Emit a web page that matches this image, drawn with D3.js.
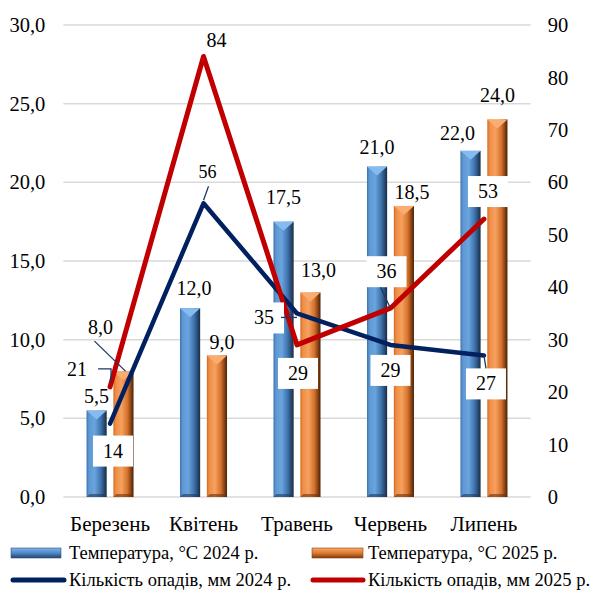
<!DOCTYPE html>
<html lang="uk">
<head>
<meta charset="utf-8">
<title>Температура та опади</title>
<script src="https://cdn.jsdelivr.net/npm/d3@7"></script>
<style>
  body { margin: 0; background: #fff; }
  text { font-family: "Liberation Serif", "Times New Roman", serif; fill: #000; }
</style>
</head>
<body>
<script>
var months = ["Березень", "Квітень", "Травень", "Червень", "Липень"];
var temp2024 = [5.5, 12.0, 17.5, 21.0, 22.0];
var temp2025 = [8.0, 9.0, 13.0, 18.5, 24.0];
var rain2024 = [14, 56, 35, 29, 27];
var rain2025 = [21, 84, 29, 36, 53];
var leftTicks = [0, 5, 10, 15, 20, 25, 30];
var rightTicks = [0, 10, 20, 30, 40, 50, 60, 70, 80, 90];
var legendNames = ["Температура, °С 2024 р.", "Температура, °С 2025 р.",
                   "Кількість опадів, мм 2024 р.", "Кількість опадів, мм 2025 р."];

// label placement tweaks (pixels), like the hand-dragged labels in the original
var t24Off = [[0, -14], [4, -20], [0, -25], [0, -20], [-13, -18]];
var t25Off = [[-23, -44], [5, -13], [8, -22], [8, -14], [0, -24]];
var r24Off = [[3, 27], [4, -32], [-33, 4], [0, 25], [2, 28]];
var r25Off = [[-33, -18], [13, -16], [1, 28], [-4, -37], [4, -28]];
var r24Box = [true, false, true, true, true];
var r25Box = [false, false, true, true, true];

var w = 593, h = 596;
var plotTop = 25, plotBottom = 497, plotLeft = 63.3, plotRight = 530.7;

var svg = d3.select("body").append("svg")
  .attr("width", w).attr("height", h);

var defs = svg.append("defs");
function barGrad(id, stops) {
  var g = defs.append("linearGradient").attr("id", id)
    .attr("x1", 0).attr("x2", 1).attr("y1", 0).attr("y2", 0);
  stops.forEach(function (s) {
    g.append("stop").attr("offset", s[0]).attr("stop-color", s[1]);
  });
}
barGrad("gBlue", [[0, "#3c70ad"], [0.12, "#5e98d3"], [0.4, "#6aa4de"], [0.7, "#3f74ae"], [0.9, "#254469"], [1, "#1a2b40"]]);
barGrad("gOrange", [[0, "#d06a22"], [0.12, "#f08d44"], [0.4, "#f6a160"], [0.7, "#d3722c"], [0.9, "#7a3b10"], [1, "#4a2208"]]);
function legGrad(id, c1, c2, c3) {
  var g = defs.append("linearGradient").attr("id", id)
    .attr("x1", 0).attr("x2", 0).attr("y1", 0).attr("y2", 1);
  g.append("stop").attr("offset", 0).attr("stop-color", c1);
  g.append("stop").attr("offset", 0.5).attr("stop-color", c2);
  g.append("stop").attr("offset", 1).attr("stop-color", c3);
}
legGrad("lBlue", "#7fb3e6", "#4f88c6", "#24446a");
legGrad("lOrange", "#f7a868", "#e07b32", "#7a3b10");

var x = d3.scaleBand().domain(months).range([plotLeft, plotRight]);
var bw = x.bandwidth();
var xs = d3.scaleBand().domain(["a", "b"])
  .range([bw / 2 - 23.5, bw / 2 + 23.5]).paddingInner(0.25);
var yL = d3.scaleLinear().domain([0, 30]).range([plotBottom, plotTop]);
var yR = d3.scaleLinear().domain([0, 90]).range([plotBottom, plotTop]);
var fmt1 = function (v) { return d3.format(".1f")(v).replace(".", ","); };

// gridlines
svg.append("g").selectAll("line").data(leftTicks).enter().append("line")
  .attr("x1", plotLeft).attr("x2", plotRight)
  .attr("y1", function (d) { return yL(d); })
  .attr("y2", function (d) { return yL(d); })
  .attr("stroke", "#d9d9d9").attr("stroke-width", 1.5);

// left axis
var axL = svg.append("g").attr("transform", "translate(" + (plotLeft - 18) + ",0)")
  .call(d3.axisLeft(yL).tickValues(leftTicks).tickFormat(fmt1).tickSize(0).tickPadding(0));
axL.select(".domain").remove();
axL.selectAll("text").attr("font-size", "20.5px").attr("font-family", "Liberation Serif");

// right axis
var axR = svg.append("g").attr("transform", "translate(" + (plotRight + 17) + ",0)")
  .call(d3.axisRight(yR).tickValues(rightTicks).tickSize(0).tickPadding(0));
axR.select(".domain").remove();
axR.selectAll("text").attr("font-size", "20.5px").attr("font-family", "Liberation Serif");

// category labels
svg.append("g").selectAll("text").data(months).enter().append("text")
  .attr("x", function (d) { return x(d) + bw / 2; })
  .attr("y", 531)
  .attr("text-anchor", "middle")
  .attr("font-size", "21px")
  .text(function (d) { return d; });

// bars
function drawBars(vals, key, grad, cap, shade) {
  var g = svg.append("g");
  var bx = function (i) { return x(months[i]) + xs(key); };
  var bwid = xs.bandwidth();
  g.selectAll("rect").data(vals).enter().append("rect")
    .attr("x", function (d, i) { return bx(i); })
    .attr("y", function (d) { return yL(d); })
    .attr("width", bwid)
    .attr("height", function (d) { return plotBottom - yL(d); })
    .attr("fill", "url(#" + grad + ")");
  // bevel on top
  g.selectAll("polygon.top").data(vals).enter().append("polygon")
    .attr("class", "top")
    .attr("points", function (d, i) {
      var x0 = bx(i), y0 = yL(d);
      return [[x0, y0], [x0 + bwid, y0], [x0 + bwid / 2, y0 + 9]].join(" ");
    })
    .attr("fill", cap);
  // bevel at the foot
  g.selectAll("polygon.bot").data(vals).enter().append("polygon")
    .attr("class", "bot")
    .attr("points", function (d, i) {
      var x0 = bx(i);
      return [[x0 + 3, plotBottom - 3], [x0 + bwid - 3, plotBottom - 3], [x0 + bwid, plotBottom], [x0, plotBottom]].join(" ");
    })
    .attr("fill", shade).attr("opacity", 0.6);
}
drawBars(temp2024, "a", "gBlue", "#85bbee", "#1f3a5c");
drawBars(temp2025, "b", "gOrange", "#f9ad70", "#6a320c");

// lines
function drawLine(vals, color, width) {
  var line = d3.line()
    .x(function (d, i) { return x(months[i]) + bw / 2; })
    .y(function (d) { return yR(d); });
  svg.append("path").datum(vals)
    .attr("d", line)
    .attr("fill", "none")
    .attr("stroke", color)
    .attr("stroke-width", width)
    .attr("stroke-linejoin", "round")
    .attr("stroke-linecap", "round");
}
drawLine(rain2024, "#002060", 4.5);
drawLine(rain2025, "#c00000", 5);

var labels = svg.append("g");
var leader = "#1f3864";

// temperature labels
function tempLabels(vals, key, offs, leaderIdx) {
  vals.forEach(function (v, i) {
    var cx = x(months[i]) + xs(key) + xs.bandwidth() / 2;
    var cy = yL(v);
    var lx = cx + offs[i][0], ly = cy + offs[i][1];
    if (leaderIdx.indexOf(i) >= 0) {
      labels.append("line")
        .attr("x1", lx - 6).attr("y1", ly + 14)
        .attr("x2", cx + 2).attr("y2", cy)
        .attr("stroke", leader).attr("stroke-width", 1.3);
    }
    labels.append("text")
      .attr("x", lx).attr("y", ly)
      .attr("dy", "0.35em")
      .attr("text-anchor", "middle")
      .attr("font-size", "20px")
      .text(fmt1(v));
  });
}
tempLabels(temp2024, "a", t24Off, []);
tempLabels(temp2025, "b", t25Off, [0]);

// precipitation labels
function rainLabels(vals, offs, boxes, sizes) {
  vals.forEach(function (v, i) {
    var cx = x(months[i]) + bw / 2;
    var cy = yR(v);
    var lx = cx + offs[i][0], ly = cy + offs[i][1];
    var g = labels.append("g");
    var t = g.append("text")
      .attr("x", lx).attr("y", ly)
      .attr("dy", "0.35em")
      .attr("text-anchor", "middle")
      .attr("font-size", sizes[i] + "px")
      .text(v);
    if (boxes[i]) {
      var bb = t.node().getBBox();
      g.insert("rect", "text")
        .attr("x", lx - bb.width / 2 - 10)
        .attr("y", ly - 15)
        .attr("width", bb.width + 20)
        .attr("height", 31)
        .attr("fill", "#fff");
    }
  });
}
rainLabels(rain2024, r24Off, r24Box, [20, 18, 20, 20, 20]);
rainLabels(rain2025, r25Off, r25Box, [20, 20, 20, 20, 20]);

// leader lines for precipitation labels
function pt(vals, i) { return [x(months[i]) + bw / 2, yR(vals[i])]; }
var p;
p = pt(rain2024, 1);
labels.append("line").attr("x1", p[0] + 5).attr("y1", p[1] - 17).attr("x2", p[0]).attr("y2", p[1] - 3)
  .attr("stroke", leader).attr("stroke-width", 1.3);
p = pt(rain2024, 2);
labels.append("line").attr("x1", p[0] - 16).attr("y1", p[1] + 4).attr("x2", p[0]).attr("y2", p[1] + 4)
  .attr("stroke", leader).attr("stroke-width", 1.3);
p = pt(rain2024, 4);
labels.append("line").attr("x1", p[0]).attr("y1", p[1]).attr("x2", p[0] + 2).attr("y2", p[1] + 13)
  .attr("stroke", leader).attr("stroke-width", 1.3);
p = pt(rain2025, 0);
labels.append("path")
  .attr("d", "M" + (p[0] - 12) + "," + (p[1] - 18) + "H" + (p[0] + 1) + "V" + (p[1] - 4))
  .attr("fill", "none").attr("stroke", leader).attr("stroke-width", 1.3);
p = pt(rain2025, 3);
labels.append("line").attr("x1", p[0] - 10).attr("y1", p[1] - 21).attr("x2", p[0]).attr("y2", p[1])
  .attr("stroke", leader).attr("stroke-width", 1.3);

// legend
var leg = svg.append("g");
leg.append("rect").attr("x", 11).attr("y", 548).attr("width", 50).attr("height", 10)
  .attr("fill", "url(#lBlue)").attr("stroke", "#2e5486").attr("stroke-width", 0.6);
leg.append("rect").attr("x", 312).attr("y", 548).attr("width", 51).attr("height", 10)
  .attr("fill", "url(#lOrange)").attr("stroke", "#8a4512").attr("stroke-width", 0.6);
leg.append("line").attr("x1", 13).attr("x2", 64).attr("y1", 580).attr("y2", 580)
  .attr("stroke", "#002060").attr("stroke-width", 5).attr("stroke-linecap", "round");
leg.append("line").attr("x1", 313).attr("x2", 363).attr("y1", 580).attr("y2", 580)
  .attr("stroke", "#c00000").attr("stroke-width", 5).attr("stroke-linecap", "round");
var legPos = [[69, 553], [368, 553], [69, 580], [368, 580]];
leg.selectAll("text").data(legendNames).enter().append("text")
  .attr("x", function (d, i) { return legPos[i][0]; })
  .attr("y", function (d, i) { return legPos[i][1]; })
  .attr("dy", "0.35em")
  .attr("font-size", "18.5px")
  .text(function (d) { return d; });
</script>
</body>
</html>
